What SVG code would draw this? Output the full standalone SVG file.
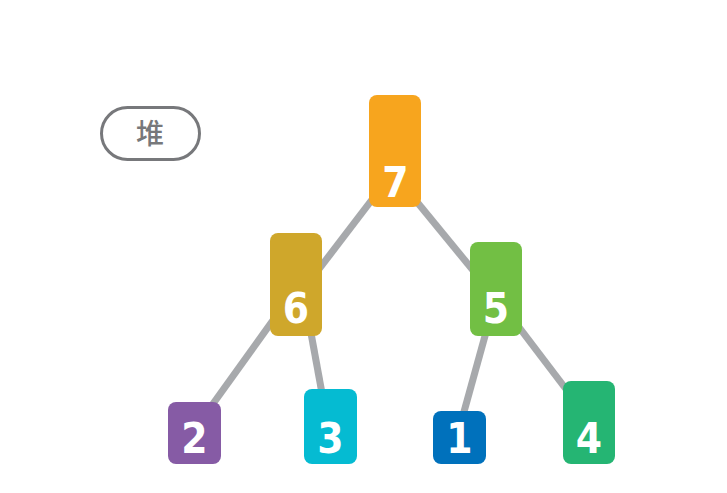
<svg xmlns="http://www.w3.org/2000/svg" width="727" height="493" viewBox="0 0 727 493">
<style>
.edge{stroke:#A7A9AC;stroke-width:7;fill:none}
.num{font-family:"DejaVu Sans Condensed","DejaVu Sans",sans-serif;font-stretch:condensed;font-weight:bold;font-size:42px;fill:#fff;text-anchor:middle}
.lbl{font-family:"Noto Sans CJK SC","Noto Sans CJK JP",sans-serif;font-size:28px;font-weight:500;fill:#77787B;text-anchor:middle}
</style>
<rect width="727" height="493" fill="#fff"/>
<g id="edges">
<line class="edge" x1="387" y1="180" x2="303" y2="290"/>
<line class="edge" x1="399" y1="180" x2="490" y2="291"/>
<line class="edge" x1="299" y1="284" x2="192" y2="433"/>
<line class="edge" x1="302" y1="284" x2="328" y2="426"/>
<line class="edge" x1="498" y1="289" x2="457" y2="437"/>
<line class="edge" x1="490" y1="289" x2="591" y2="422"/>
</g>
<g id="label">
<rect x="101.5" y="107.5" width="98" height="52" rx="26" fill="#fff" stroke="#77787B" stroke-width="3"/>
<text class="lbl" x="150" y="144">堆</text>
</g>
<g id="n7"><rect x="369" y="95" width="52" height="112" rx="8" fill="#F7A51E"/><text class="num" x="395.5" y="197">7</text></g>
<g id="n6"><rect x="270" y="233" width="52" height="103" rx="8" fill="#CFA72B"/><text class="num" x="296" y="323">6</text></g>
<g id="n5"><rect x="470" y="242" width="52" height="94" rx="8" fill="#72BF44"/><text class="num" x="496" y="323">5</text></g>
<g id="n2"><rect x="168" y="402" width="53" height="62" rx="8" fill="#865BA5"/><text class="num" x="194.5" y="453">2</text></g>
<g id="n3"><rect x="304" y="389" width="53" height="75" rx="8" fill="#05BBD2"/><text class="num" x="330.5" y="453">3</text></g>
<g id="n1"><rect x="433" y="411" width="53" height="53" rx="8" fill="#0071BC"/><text class="num" x="459.5" y="453">1</text></g>
<g id="n4"><rect x="563" y="381" width="52" height="83" rx="8" fill="#25B573"/><text class="num" x="589" y="453">4</text></g>
</svg>
